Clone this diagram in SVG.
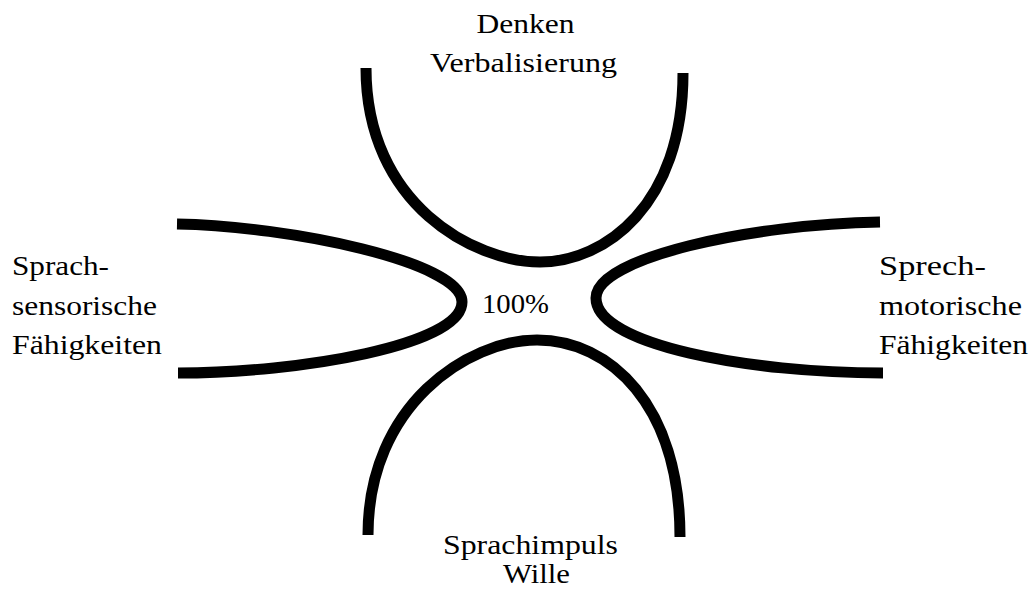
<svg xmlns="http://www.w3.org/2000/svg" width="1034" height="596" viewBox="0 0 1034 596">
<style>
.c{fill:none;stroke:#000;stroke-width:11;stroke-linecap:butt}
.t{font-family:"Liberation Serif","Times New Roman",serif;font-size:27px;fill:#000}
.m{text-anchor:middle}
</style>
<rect width="1034" height="596" fill="#fff"/>
<g id="connectors">
<path id="curve-top" class="c" d="M366,68 C366,205 475,262 540,262 C605,262 683,205 683,73"/>
<path id="curve-bottom" class="c" d="M368,535 C368,405 468,340 537,340 C610,340 680,405 680,537"/>
<path id="curve-left" class="c" d="M177,224 C290,226 462,262 462,302 C462,345 300,373 178,373"/>
<path id="curve-right" class="c" d="M880,222 C750,224 596,258 596,298 C596,345 750,373 883,373"/>
</g>
<g id="node-top">
<text class="t m" x="525.5" y="33" textLength="98" lengthAdjust="spacingAndGlyphs">Denken</text>
<text class="t m" x="523.5" y="72" textLength="187" lengthAdjust="spacingAndGlyphs">Verbalisierung</text>
</g>
<g id="node-center">
<text class="t" x="482" y="313" textLength="67" lengthAdjust="spacingAndGlyphs">100%</text>
</g>
<g id="node-left">
<text class="t" x="12" y="275" textLength="97" lengthAdjust="spacingAndGlyphs">Sprach-</text>
<text class="t" x="12" y="315" textLength="145" lengthAdjust="spacingAndGlyphs">sensorische</text>
<text class="t" x="12" y="354" textLength="150" lengthAdjust="spacingAndGlyphs">Fähigkeiten</text>
</g>
<g id="node-right">
<text class="t" x="879" y="275" textLength="107" lengthAdjust="spacingAndGlyphs">Sprech-</text>
<text class="t" x="879" y="315" textLength="143" lengthAdjust="spacingAndGlyphs">motorische</text>
<text class="t" x="879" y="354" textLength="149" lengthAdjust="spacingAndGlyphs">Fähigkeiten</text>
</g>
<g id="node-bottom">
<text class="t m" x="530.5" y="554" textLength="175" lengthAdjust="spacingAndGlyphs">Sprachimpuls</text>
<text class="t m" x="536.5" y="583" textLength="67" lengthAdjust="spacingAndGlyphs">Wille</text>
</g>
</svg>
